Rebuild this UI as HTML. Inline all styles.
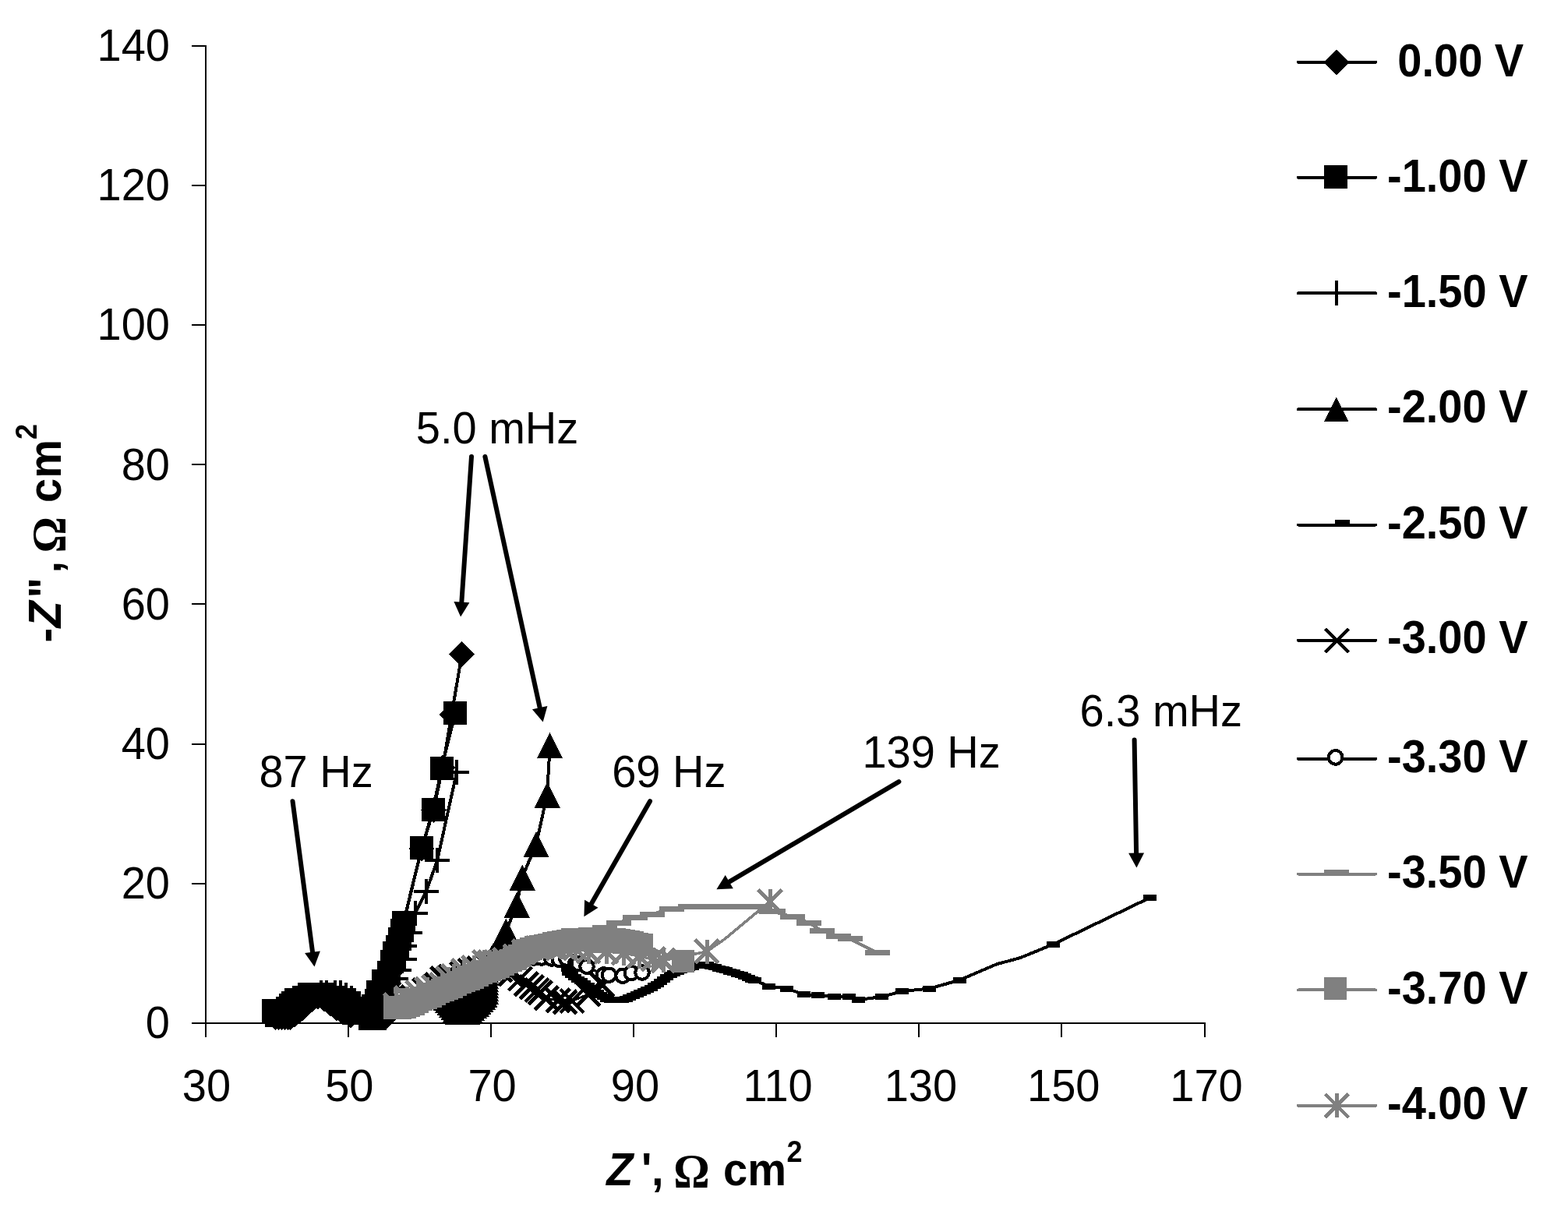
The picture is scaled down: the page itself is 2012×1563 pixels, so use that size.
<!DOCTYPE html>
<html lang="en">
<head>
<meta charset="utf-8">
<title>Nyquist plot</title>
<style>
html,body{margin:0;padding:0;background:#fff;}
body{width:2012px;height:1563px;overflow:hidden;}
svg{display:block;position:absolute;left:0;top:0;}
text{font-family:"Liberation Sans",sans-serif;fill:#000;}
.t{font-size:56px;}
.b{font-size:56px;font-weight:bold;}
.bi{font-style:italic;}
.om{font-family:"Liberation Serif",serif;font-weight:bold;font-size:58px;}
.sup{font-size:36px;}
</style>
</head>
<body>
<svg width="2012" height="1563" viewBox="0 0 2012 1563">
<rect x="0" y="0" width="2012" height="1563" fill="#fff"/>
<g id="axes"><path d="M264 57.5V1331M246 1313H1546.5M246 1313H264M246 1133.8H264M246 954.6H264M246 775.4H264M246 596.1H264M246 416.9H264M246 237.7H264M246 58.5H264M264 1313V1331M447.1 1313V1331M630.1 1313V1331M813.2 1313V1331M996.3 1313V1331M1179.4 1313V1331M1362.4 1313V1331M1545.5 1313V1331" fill="none" stroke="#000" stroke-width="2" shape-rendering="crispEdges"/></g>
<g id="yticks">
<text class="t" text-anchor="end" transform="translate(218 1332.4) scale(1 1.03)">0</text>
<text class="t" text-anchor="end" transform="translate(218 1153.2) scale(1 1.03)">20</text>
<text class="t" text-anchor="end" transform="translate(218 974) scale(1 1.03)">40</text>
<text class="t" text-anchor="end" transform="translate(218 794.8) scale(1 1.03)">60</text>
<text class="t" text-anchor="end" transform="translate(218 615.5) scale(1 1.03)">80</text>
<text class="t" text-anchor="end" transform="translate(218 436.3) scale(1 1.03)">100</text>
<text class="t" text-anchor="end" transform="translate(218 257.1) scale(1 1.03)">120</text>
<text class="t" text-anchor="end" transform="translate(218 77.9) scale(1 1.03)">140</text>
</g>
<g id="xticks">
<text class="t" text-anchor="middle" transform="translate(265 1413) scale(1 1.03)">30</text>
<text class="t" text-anchor="middle" transform="translate(448.3 1413) scale(1 1.03)">50</text>
<text class="t" text-anchor="middle" transform="translate(631.6 1413) scale(1 1.03)">70</text>
<text class="t" text-anchor="middle" transform="translate(814.9 1413) scale(1 1.03)">90</text>
<text class="t" text-anchor="middle" transform="translate(998.1 1413) scale(1 1.03)">110</text>
<text class="t" text-anchor="middle" transform="translate(1181.4 1413) scale(1 1.03)">130</text>
<text class="t" text-anchor="middle" transform="translate(1364.7 1413) scale(1 1.03)">150</text>
<text class="t" text-anchor="middle" transform="translate(1548 1413) scale(1 1.03)">170</text>
</g>
<g id="xtitle">
<text class="b" transform="translate(0 1520.8) scale(1 1.07)"><tspan class="bi" x="778.3">Z</tspan><tspan x="822.9">'</tspan><tspan x="836">, </tspan><tspan class="om" x="864.2" dy="2.1">&#937; </tspan><tspan x="928" dy="-2.1">cm</tspan><tspan class="sup" x="1009.5" dy="-28.2">2</tspan></text>
</g>
<g id="ytitle">
<text class="b" transform="translate(77.5 824.4) rotate(-90) scale(1 1.07)"><tspan x="0">-</tspan><tspan class="bi" x="18.9">Z</tspan><tspan x="56.9">&quot;</tspan><tspan x="88.9">, </tspan><tspan class="om" x="114.9" dy="4.95">&#937; </tspan><tspan x="179.4" dy="-4.95">cm</tspan><tspan class="sup" x="260.4" dy="-28.97">2</tspan></text>
</g>
<g id="plot" shape-rendering="crispEdges"><g id="s1"><polyline points="353,1305.5 357,1305.5 361,1305.5 365,1305.5 369,1305.5 372,1305.5 378,1302 383,1298 388,1294 392,1290 400,1283 408,1279 416,1282 424,1288 432,1294 440,1299 450,1303 472,1305.5 476,1305.5 480,1305.5 484,1305.5 488,1305.5 492,1305.5 494,1305.5 494,1292 496,1278 499,1262 503,1246 506,1232 509,1218 513,1204 517,1188 541,1089 556.3,1039.8 568,984.6 579.5,917 592.7,839.3" fill="none" stroke="#000" stroke-width="4" stroke-linejoin="round" stroke-linecap="round"/><path d="M336.5 1305.5l16.5 -16.5l16.5 16.5l-16.5 16.5zM340.5 1305.5l16.5 -16.5l16.5 16.5l-16.5 16.5zM344.5 1305.5l16.5 -16.5l16.5 16.5l-16.5 16.5zM348.5 1305.5l16.5 -16.5l16.5 16.5l-16.5 16.5zM352.5 1305.5l16.5 -16.5l16.5 16.5l-16.5 16.5zM355.5 1305.5l16.5 -16.5l16.5 16.5l-16.5 16.5zM361.5 1302l16.5 -16.5l16.5 16.5l-16.5 16.5zM366.5 1298l16.5 -16.5l16.5 16.5l-16.5 16.5zM371.5 1294l16.5 -16.5l16.5 16.5l-16.5 16.5zM375.5 1290l16.5 -16.5l16.5 16.5l-16.5 16.5zM383.5 1283l16.5 -16.5l16.5 16.5l-16.5 16.5zM391.5 1279l16.5 -16.5l16.5 16.5l-16.5 16.5zM399.5 1282l16.5 -16.5l16.5 16.5l-16.5 16.5zM407.5 1288l16.5 -16.5l16.5 16.5l-16.5 16.5zM415.5 1294l16.5 -16.5l16.5 16.5l-16.5 16.5zM423.5 1299l16.5 -16.5l16.5 16.5l-16.5 16.5zM433.5 1303l16.5 -16.5l16.5 16.5l-16.5 16.5zM455.5 1305.5l16.5 -16.5l16.5 16.5l-16.5 16.5zM459.5 1305.5l16.5 -16.5l16.5 16.5l-16.5 16.5zM463.5 1305.5l16.5 -16.5l16.5 16.5l-16.5 16.5zM467.5 1305.5l16.5 -16.5l16.5 16.5l-16.5 16.5zM471.5 1305.5l16.5 -16.5l16.5 16.5l-16.5 16.5zM475.5 1305.5l16.5 -16.5l16.5 16.5l-16.5 16.5zM477.5 1305.5l16.5 -16.5l16.5 16.5l-16.5 16.5zM477.5 1292l16.5 -16.5l16.5 16.5l-16.5 16.5zM479.5 1278l16.5 -16.5l16.5 16.5l-16.5 16.5zM482.5 1262l16.5 -16.5l16.5 16.5l-16.5 16.5zM486.5 1246l16.5 -16.5l16.5 16.5l-16.5 16.5zM489.5 1232l16.5 -16.5l16.5 16.5l-16.5 16.5zM492.5 1218l16.5 -16.5l16.5 16.5l-16.5 16.5zM496.5 1204l16.5 -16.5l16.5 16.5l-16.5 16.5zM500.5 1188l16.5 -16.5l16.5 16.5l-16.5 16.5zM524.5 1089l16.5 -16.5l16.5 16.5l-16.5 16.5zM539.8 1039.8l16.5 -16.5l16.5 16.5l-16.5 16.5zM551.5 984.6l16.5 -16.5l16.5 16.5l-16.5 16.5zM563 917l16.5 -16.5l16.5 16.5l-16.5 16.5zM576.2 839.3l16.5 -16.5l16.5 16.5l-16.5 16.5z" fill="#000"/></g><g id="s2"><polyline points="351,1297 355,1303 369,1294 373,1290 376,1287 380,1283 390,1280 397,1276 405,1276 414,1276 427,1279.6 434,1283 441,1285 448,1286.6 454,1300 475,1307 481,1307 481,1295 483,1284 485,1273 492,1259 499,1248 503,1234 506,1223 510,1215 513,1205 516,1194 517.5,1184 541.4,1087.8 555.6,1039.3 566.6,986.1 584,915.3" fill="none" stroke="#000" stroke-width="4" stroke-linejoin="round" stroke-linecap="round"/><path d="M336 1282h30v30h-30zM340 1288h30v30h-30zM354 1279h30v30h-30zM358 1275h30v30h-30zM361 1272h30v30h-30zM365 1268h30v30h-30zM375 1265h30v30h-30zM382 1261h30v30h-30zM390 1261h30v30h-30zM399 1261h30v30h-30zM412 1264.6h30v30h-30zM419 1268h30v30h-30zM426 1270h30v30h-30zM433 1271.6h30v30h-30zM439 1285h30v30h-30zM460 1292h30v30h-30zM466 1292h30v30h-30zM466 1280h30v30h-30zM468 1269h30v30h-30zM470 1258h30v30h-30zM477 1244h30v30h-30zM484 1233h30v30h-30zM488 1219h30v30h-30zM491 1208h30v30h-30zM495 1200h30v30h-30zM498 1190h30v30h-30zM501 1179h30v30h-30zM502.5 1169h30v30h-30zM526.4 1072.8h30v30h-30zM540.6 1024.3h30v30h-30zM551.6 971.1h30v30h-30zM569 900.3h30v30h-30z" fill="#000"/></g><g id="s3"><polyline points="366,1296 380,1288 395,1280 412.4,1274 419.4,1274 430.3,1274 436.8,1274 443.8,1277 450.7,1281 455.2,1284 466,1292 478,1298 490,1295 499,1280 503,1268 508,1256 512,1244.8 519,1230.9 519,1214.2 526,1196.6 533,1171.5 547,1143.7 561,1104.4 586,991" fill="none" stroke="#000" stroke-width="4" stroke-linejoin="round" stroke-linecap="round"/><path d="M350 1296h32M366 1280v32M364 1288h32M380 1272v32M379 1280h32M395 1264v32M396.4 1274h32M412.4 1258v32M403.4 1274h32M419.4 1258v32M414.3 1274h32M430.3 1258v32M420.8 1274h32M436.8 1258v32M427.8 1277h32M443.8 1261v32M434.7 1281h32M450.7 1265v32M439.2 1284h32M455.2 1268v32M450 1292h32M466 1276v32M462 1298h32M478 1282v32M474 1295h32M490 1279v32M483 1280h32M499 1264v32M487 1268h32M503 1252v32M492 1256h32M508 1240v32M496 1244.8h32M512 1228.8v32M503 1230.9h32M519 1214.9v32M503 1214.2h32M519 1198.2v32M510 1196.6h32M526 1180.6v32M517 1171.5h32M533 1155.5v32M531 1143.7h32M547 1127.7v32M545 1104.4h32M561 1088.4v32M570 991h32M586 975v32" fill="none" stroke="#000" stroke-width="4" stroke-linecap="butt"/></g><g id="s4"><polyline points="572,1280 574.6,1283.1 577.1,1286.1 579.7,1289.2 582.2,1292.3 584.8,1295.4 587.6,1298 591.6,1298 595.6,1298 599.6,1298 603.1,1296.8 605.8,1293.9 608.5,1290.9 611.2,1288 613.9,1285 616.6,1282.1 619.3,1279.1 622,1276.2 623.5,1272.8 623.5,1268.8 623.5,1264.8 623.5,1260.8 623.5,1256.8 623.5,1252.8 623.5,1248.8 623.5,1244.8 624.8,1241.1 626.7,1237.6 628.7,1234.1 630.6,1230.6 632.6,1227.1 634.7,1223.8 636.9,1220.4 639.1,1217.1 641.3,1213.7 643,1211 585,1285 589.7,1283.3 594.4,1281.5 599.1,1279.8 603.8,1278.1 608.4,1276.3 612,1275 649.4,1195 663,1161 670,1126 688,1083.4 702,1020 705.7,956.4" fill="none" stroke="#000" stroke-width="4" stroke-linejoin="round" stroke-linecap="round"/><path d="M572 1263.5l16.5 33h-33zM574.6 1266.6l16.5 33h-33zM577.1 1269.6l16.5 33h-33zM579.7 1272.7l16.5 33h-33zM582.2 1275.8l16.5 33h-33zM584.8 1278.9l16.5 33h-33zM587.6 1281.5l16.5 33h-33zM591.6 1281.5l16.5 33h-33zM595.6 1281.5l16.5 33h-33zM599.6 1281.5l16.5 33h-33zM603.1 1280.3l16.5 33h-33zM605.8 1277.4l16.5 33h-33zM608.5 1274.4l16.5 33h-33zM611.2 1271.5l16.5 33h-33zM613.9 1268.5l16.5 33h-33zM616.6 1265.6l16.5 33h-33zM619.3 1262.6l16.5 33h-33zM622 1259.7l16.5 33h-33zM623.5 1256.3l16.5 33h-33zM623.5 1252.3l16.5 33h-33zM623.5 1248.3l16.5 33h-33zM623.5 1244.3l16.5 33h-33zM623.5 1240.3l16.5 33h-33zM623.5 1236.3l16.5 33h-33zM623.5 1232.3l16.5 33h-33zM623.5 1228.3l16.5 33h-33zM624.8 1224.6l16.5 33h-33zM626.7 1221.1l16.5 33h-33zM628.7 1217.6l16.5 33h-33zM630.6 1214.1l16.5 33h-33zM632.6 1210.6l16.5 33h-33zM634.7 1207.3l16.5 33h-33zM636.9 1203.9l16.5 33h-33zM639.1 1200.6l16.5 33h-33zM641.3 1197.2l16.5 33h-33zM643 1194.5l16.5 33h-33zM585 1268.5l16.5 33h-33zM589.7 1266.8l16.5 33h-33zM594.4 1265l16.5 33h-33zM599.1 1263.3l16.5 33h-33zM603.8 1261.6l16.5 33h-33zM608.4 1259.8l16.5 33h-33zM612 1258.5l16.5 33h-33zM649.4 1178.5l16.5 33h-33zM663 1144.5l16.5 33h-33zM670 1109.5l16.5 33h-33zM688 1066.9l16.5 33h-33zM702 1003.5l16.5 33h-33zM705.7 939.9l16.5 33h-33z" fill="#000"/></g><g id="s5"><polyline points="727,1238 728.4,1242.8 729.8,1247.6 733.4,1250.8 737.5,1253.6 741.6,1256.5 745.7,1259.3 749.9,1262.2 754,1265.1 758.1,1267.9 762.2,1270.8 766.3,1273.6 770.4,1276.5 774.5,1279.3 778.6,1282.2 783.4,1282.7 788.4,1282.7 793.4,1282.6 798.4,1282.5 803.2,1281.5 807.9,1279.9 812.7,1278.2 817.3,1276.4 821.8,1274.3 826.4,1272.2 830.9,1270 835.2,1267.5 839.6,1265.1 843.9,1262.6 847.9,1259.6 851.8,1256.5 855.8,1253.5 860.2,1251.1 864.6,1248.7 869.2,1246.8 873.9,1245.2 878.7,1243.5 883.4,1242 888.2,1240.5 893,1239 898,1238.7 902.9,1238.3 907.9,1238 912.7,1239.5 917.5,1241 922.2,1242.5 927,1244 931.8,1245.4 936.6,1246.8 941.4,1248.1 946.2,1249.5 951,1251 955.6,1252.9 960.2,1254.8 964.9,1256.7 968,1258 986.7,1265.5 1009,1268.5 1031.5,1276 1049,1277.4 1070,1279 1089.6,1279 1101.5,1283 1131.9,1279 1157.8,1272 1192.6,1268.6 1231.3,1257.7 1279,1237.2 1308.9,1229.2 1351.6,1211.7 1475.3,1152.1" fill="none" stroke="#000" stroke-width="4" stroke-linejoin="round" stroke-linecap="round"/><path d="M718.5 1234h17v8h-17zM719.9 1238.8h17v8h-17zM721.3 1243.6h17v8h-17zM724.9 1246.8h17v8h-17zM729 1249.6h17v8h-17zM733.1 1252.5h17v8h-17zM737.2 1255.3h17v8h-17zM741.4 1258.2h17v8h-17zM745.5 1261.1h17v8h-17zM749.6 1263.9h17v8h-17zM753.7 1266.8h17v8h-17zM757.8 1269.6h17v8h-17zM761.9 1272.5h17v8h-17zM766 1275.3h17v8h-17zM770.1 1278.2h17v8h-17zM774.9 1278.7h17v8h-17zM779.9 1278.7h17v8h-17zM784.9 1278.6h17v8h-17zM789.9 1278.5h17v8h-17zM794.7 1277.5h17v8h-17zM799.4 1275.9h17v8h-17zM804.2 1274.2h17v8h-17zM808.8 1272.4h17v8h-17zM813.3 1270.3h17v8h-17zM817.9 1268.2h17v8h-17zM822.4 1266h17v8h-17zM826.7 1263.5h17v8h-17zM831.1 1261.1h17v8h-17zM835.4 1258.6h17v8h-17zM839.4 1255.6h17v8h-17zM843.3 1252.5h17v8h-17zM847.3 1249.5h17v8h-17zM851.7 1247.1h17v8h-17zM856.1 1244.7h17v8h-17zM860.7 1242.8h17v8h-17zM865.4 1241.2h17v8h-17zM870.2 1239.5h17v8h-17zM874.9 1238h17v8h-17zM879.7 1236.5h17v8h-17zM884.5 1235h17v8h-17zM889.5 1234.7h17v8h-17zM894.4 1234.3h17v8h-17zM899.4 1234h17v8h-17zM904.2 1235.5h17v8h-17zM909 1237h17v8h-17zM913.7 1238.5h17v8h-17zM918.5 1240h17v8h-17zM923.3 1241.4h17v8h-17zM928.1 1242.8h17v8h-17zM932.9 1244.1h17v8h-17zM937.7 1245.5h17v8h-17zM942.5 1247h17v8h-17zM947.1 1248.9h17v8h-17zM951.7 1250.8h17v8h-17zM956.4 1252.7h17v8h-17zM959.5 1254h17v8h-17zM978.2 1261.5h17v8h-17zM1000.5 1264.5h17v8h-17zM1023 1272h17v8h-17zM1040.5 1273.4h17v8h-17zM1061.5 1275h17v8h-17zM1081.1 1275h17v8h-17zM1093 1279h17v8h-17zM1123.4 1275h17v8h-17zM1149.3 1268h17v8h-17zM1184.1 1264.6h17v8h-17zM1222.8 1253.7h17v8h-17zM1343.1 1207.7h17v8h-17zM1466.8 1148.1h17v8h-17z" fill="#000"/></g><g id="s6"><polyline points="530,1280 545,1271 560.6,1263.6 567.6,1255.6 578.5,1252.7 592.4,1249.7 603.3,1245.7 615,1243 628,1242 642,1245 655,1250 667.6,1256 675,1263 682,1267 689,1270.5 693,1274 701,1281 716,1284 725,1286 734,1284.4 755,1276 773,1264" fill="none" stroke="#000" stroke-width="3" stroke-linejoin="round" stroke-linecap="round"/><path d="M515 1265l30 30M515 1295l30 -30M530 1256l30 30M530 1286l30 -30M545.6 1248.6l30 30M545.6 1278.6l30 -30M552.6 1240.6l30 30M552.6 1270.6l30 -30M563.5 1237.7l30 30M563.5 1267.7l30 -30M577.4 1234.7l30 30M577.4 1264.7l30 -30M588.3 1230.7l30 30M588.3 1260.7l30 -30M600 1228l30 30M600 1258l30 -30M613 1227l30 30M613 1257l30 -30M627 1230l30 30M627 1260l30 -30M640 1235l30 30M640 1265l30 -30M652.6 1241l30 30M652.6 1271l30 -30M660 1248l30 30M660 1278l30 -30M667 1252l30 30M667 1282l30 -30M674 1255.5l30 30M674 1285.5l30 -30M678 1259l30 30M678 1289l30 -30M686 1266l30 30M686 1296l30 -30M701 1269l30 30M701 1299l30 -30M710 1271l30 30M710 1301l30 -30M719 1269.4l30 30M719 1299.4l30 -30M740 1261l30 30M740 1291l30 -30M758 1249l30 30M758 1279l30 -30" fill="none" stroke="#000" stroke-width="4.5" stroke-linecap="butt"/></g><g id="s7"><polyline points="560,1268 570.9,1263.1 581.9,1258.2 592.8,1253.2 603.9,1248.7 615.3,1245 626.8,1241.3 638.2,1237.6 649.9,1235 661.6,1232.7 673.4,1230.3 685.3,1229 695,1229 707.7,1230 717.3,1231.3 726.8,1230 738.4,1237 742.3,1236.7 753,1240.2 774.5,1251 781.4,1251.2 799,1252.2 810.3,1248.6 824,1248" fill="none" stroke="#000" stroke-width="3" stroke-linejoin="round" stroke-linecap="round"/><circle cx="560" cy="1268" r="8.7" fill="#fff" stroke="#000" stroke-width="4"/><circle cx="570.9" cy="1263.1" r="8.7" fill="#fff" stroke="#000" stroke-width="4"/><circle cx="581.9" cy="1258.2" r="8.7" fill="#fff" stroke="#000" stroke-width="4"/><circle cx="592.8" cy="1253.2" r="8.7" fill="#fff" stroke="#000" stroke-width="4"/><circle cx="603.9" cy="1248.7" r="8.7" fill="#fff" stroke="#000" stroke-width="4"/><circle cx="615.3" cy="1245" r="8.7" fill="#fff" stroke="#000" stroke-width="4"/><circle cx="626.8" cy="1241.3" r="8.7" fill="#fff" stroke="#000" stroke-width="4"/><circle cx="638.2" cy="1237.6" r="8.7" fill="#fff" stroke="#000" stroke-width="4"/><circle cx="649.9" cy="1235" r="8.7" fill="#fff" stroke="#000" stroke-width="4"/><circle cx="661.6" cy="1232.7" r="8.7" fill="#fff" stroke="#000" stroke-width="4"/><circle cx="673.4" cy="1230.3" r="8.7" fill="#fff" stroke="#000" stroke-width="4"/><circle cx="685.3" cy="1229" r="8.7" fill="#fff" stroke="#000" stroke-width="4"/><circle cx="695" cy="1229" r="8.7" fill="#fff" stroke="#000" stroke-width="4"/><circle cx="707.7" cy="1230" r="8.7" fill="#fff" stroke="#000" stroke-width="4"/><circle cx="717.3" cy="1231.3" r="8.7" fill="#fff" stroke="#000" stroke-width="4"/><circle cx="726.8" cy="1230" r="8.7" fill="#fff" stroke="#000" stroke-width="4"/><circle cx="738.4" cy="1237" r="8.7" fill="#fff" stroke="#000" stroke-width="4"/><circle cx="742.3" cy="1236.7" r="8.7" fill="#fff" stroke="#000" stroke-width="4"/><circle cx="753" cy="1240.2" r="8.7" fill="#fff" stroke="#000" stroke-width="4"/><circle cx="774.5" cy="1251" r="8.7" fill="#fff" stroke="#000" stroke-width="4"/><circle cx="781.4" cy="1251.2" r="8.7" fill="#fff" stroke="#000" stroke-width="4"/><circle cx="799" cy="1252.2" r="8.7" fill="#fff" stroke="#000" stroke-width="4"/><circle cx="810.3" cy="1248.6" r="8.7" fill="#fff" stroke="#000" stroke-width="4"/><circle cx="824" cy="1248" r="8.7" fill="#fff" stroke="#000" stroke-width="4"/></g><g id="s8"><polyline points="508,1304.5 521,1271.5 541,1282 562,1272 583,1264 605,1254 626,1245 649,1235 673,1222 700,1212 720,1204 739,1198 758,1193.5 776,1190.5 794,1184 815,1177 836.5,1173 861.6,1166 886,1163 904,1163 922,1163 940,1163 958,1163 975,1163 991.6,1169.8 1017,1176.5 1037.8,1184 1055,1194.7 1075.8,1201.9 1090.8,1204.9 1125.8,1222.8" fill="none" stroke="#808080" stroke-width="4" stroke-linejoin="round" stroke-linecap="round"/><path d="M492 1301h32v7h-32zM505 1268h32v7h-32zM525 1278.5h32v7h-32zM546 1268.5h32v7h-32zM567 1260.5h32v7h-32zM589 1250.5h32v7h-32zM610 1241.5h32v7h-32zM633 1231.5h32v7h-32zM657 1218.5h32v7h-32zM684 1208.5h32v7h-32zM704 1200.5h32v7h-32zM723 1194.5h32v7h-32zM742 1190h32v7h-32zM760 1187h32v7h-32zM778 1180.5h32v7h-32zM799 1173.5h32v7h-32zM820.5 1169.5h32v7h-32zM845.6 1162.5h32v7h-32zM870 1159.5h32v7h-32zM888 1159.5h32v7h-32zM906 1159.5h32v7h-32zM924 1159.5h32v7h-32zM942 1159.5h32v7h-32zM959 1159.5h32v7h-32zM975.6 1166.3h32v7h-32zM1001 1173h32v7h-32zM1021.8 1180.5h32v7h-32zM1039 1191.2h32v7h-32zM1059.8 1198.4h32v7h-32zM1074.8 1201.4h32v7h-32zM1109.8 1219.3h32v7h-32z" fill="#808080"/></g><g id="s9"><polyline points="507,1293 513,1293 518.9,1292.6 524.5,1290.5 530,1288.1 535.4,1285.5 540.8,1282.8 546.4,1280.6 551.9,1278.2 557.1,1275.3 562.4,1272.5 567.9,1270.1 573.5,1267.9 579.2,1266 584.7,1263.7 590,1260.8 595.3,1258.2 601,1256.2 606.5,1253.9 611.9,1251.2 617.4,1248.8 622.9,1246.5 628.5,1244.4 634.3,1242.6 639.7,1240.2 645,1237.4 650.3,1234.6 655.8,1232.2 661.4,1229.9 666.4,1226.7 671.1,1222.9 676.2,1219.9 681.6,1217.2 687.3,1215.7 693.2,1214.5 699.1,1213.4 705,1212.2 710.9,1211 716.7,1209.8 722.6,1208.5 728.5,1207.1 734.3,1206 740.3,1206 746.3,1205.9 752.3,1205.9 758.3,1205.8 764.3,1205.8 770.3,1205.7 776.3,1205.7 782.3,1205.7 788.3,1205.6 794.3,1206.1 800.1,1207.5 806,1208.8 811.8,1210 817.7,1211.2 823.6,1212.5 876.8,1233.3" fill="none" stroke="#808080" stroke-width="4" stroke-linejoin="round" stroke-linecap="round"/><path d="M492.4 1278.4h29.2v29.2h-29.2zM498.4 1278.4h29.2v29.2h-29.2zM504.3 1278h29.2v29.2h-29.2zM509.9 1275.9h29.2v29.2h-29.2zM515.4 1273.5h29.2v29.2h-29.2zM520.8 1270.9h29.2v29.2h-29.2zM526.2 1268.2h29.2v29.2h-29.2zM531.8 1266h29.2v29.2h-29.2zM537.3 1263.6h29.2v29.2h-29.2zM542.5 1260.7h29.2v29.2h-29.2zM547.8 1257.9h29.2v29.2h-29.2zM553.3 1255.5h29.2v29.2h-29.2zM558.9 1253.3h29.2v29.2h-29.2zM564.6 1251.4h29.2v29.2h-29.2zM570.1 1249.1h29.2v29.2h-29.2zM575.4 1246.2h29.2v29.2h-29.2zM580.7 1243.6h29.2v29.2h-29.2zM586.4 1241.6h29.2v29.2h-29.2zM591.9 1239.3h29.2v29.2h-29.2zM597.3 1236.6h29.2v29.2h-29.2zM602.8 1234.2h29.2v29.2h-29.2zM608.3 1231.9h29.2v29.2h-29.2zM613.9 1229.8h29.2v29.2h-29.2zM619.7 1228h29.2v29.2h-29.2zM625.1 1225.6h29.2v29.2h-29.2zM630.4 1222.8h29.2v29.2h-29.2zM635.7 1220h29.2v29.2h-29.2zM641.2 1217.6h29.2v29.2h-29.2zM646.8 1215.3h29.2v29.2h-29.2zM651.8 1212.1h29.2v29.2h-29.2zM656.5 1208.3h29.2v29.2h-29.2zM661.6 1205.3h29.2v29.2h-29.2zM667 1202.6h29.2v29.2h-29.2zM672.7 1201.1h29.2v29.2h-29.2zM678.6 1199.9h29.2v29.2h-29.2zM684.5 1198.8h29.2v29.2h-29.2zM690.4 1197.6h29.2v29.2h-29.2zM696.3 1196.4h29.2v29.2h-29.2zM702.1 1195.2h29.2v29.2h-29.2zM708 1193.9h29.2v29.2h-29.2zM713.9 1192.5h29.2v29.2h-29.2zM719.7 1191.4h29.2v29.2h-29.2zM725.7 1191.4h29.2v29.2h-29.2zM731.7 1191.3h29.2v29.2h-29.2zM737.7 1191.3h29.2v29.2h-29.2zM743.7 1191.2h29.2v29.2h-29.2zM749.7 1191.2h29.2v29.2h-29.2zM755.7 1191.1h29.2v29.2h-29.2zM761.7 1191.1h29.2v29.2h-29.2zM767.7 1191.1h29.2v29.2h-29.2zM773.7 1191h29.2v29.2h-29.2zM779.7 1191.5h29.2v29.2h-29.2zM785.5 1192.9h29.2v29.2h-29.2zM791.4 1194.2h29.2v29.2h-29.2zM797.2 1195.4h29.2v29.2h-29.2zM803.1 1196.6h29.2v29.2h-29.2zM809 1197.9h29.2v29.2h-29.2zM862.2 1218.7h29.2v29.2h-29.2z" fill="#808080"/></g><g id="s10"><polyline points="508,1290 522,1281 536,1274 548,1269.5 557,1267 567,1264 575,1256 582,1252.7 595,1245.7 608,1241.7 621.7,1234.8 628.7,1234.8 636.7,1234.8 647.5,1231.8 661.5,1227.3 672.5,1221 690,1217 706,1215 722,1215 738,1217 755,1221 778,1221 800,1223 820,1227 838,1231 851,1232.5 907,1221 930,1205 960,1180 988,1156.7" fill="none" stroke="#808080" stroke-width="3.5" stroke-linejoin="round" stroke-linecap="round"/><path d="M493 1275l30 30M493 1305l30 -30M508 1274.5v31M507 1266l30 30M507 1296l30 -30M522 1265.5v31M521 1259l30 30M521 1289l30 -30M536 1258.5v31M533 1254.5l30 30M533 1284.5l30 -30M548 1254v31M542 1252l30 30M542 1282l30 -30M557 1251.5v31M552 1249l30 30M552 1279l30 -30M567 1248.5v31M560 1241l30 30M560 1271l30 -30M575 1240.5v31M567 1237.7l30 30M567 1267.7l30 -30M582 1237.2v31M580 1230.7l30 30M580 1260.7l30 -30M595 1230.2v31M593 1226.7l30 30M593 1256.7l30 -30M608 1226.2v31M606.7 1219.8l30 30M606.7 1249.8l30 -30M621.7 1219.3v31M613.7 1219.8l30 30M613.7 1249.8l30 -30M628.7 1219.3v31M621.7 1219.8l30 30M621.7 1249.8l30 -30M636.7 1219.3v31M632.5 1216.8l30 30M632.5 1246.8l30 -30M647.5 1216.3v31M646.5 1212.3l30 30M646.5 1242.3l30 -30M661.5 1211.8v31M657.5 1206l30 30M657.5 1236l30 -30M672.5 1205.5v31M675 1202l30 30M675 1232l30 -30M690 1201.5v31M691 1200l30 30M691 1230l30 -30M706 1199.5v31M707 1200l30 30M707 1230l30 -30M722 1199.5v31M723 1202l30 30M723 1232l30 -30M738 1201.5v31M740 1206l30 30M740 1236l30 -30M755 1205.5v31M763 1206l30 30M763 1236l30 -30M778 1205.5v31M785 1208l30 30M785 1238l30 -30M800 1207.5v31M805 1212l30 30M805 1242l30 -30M820 1211.5v31M823 1216l30 30M823 1246l30 -30M838 1215.5v31M836 1217.5l30 30M836 1247.5l30 -30M851 1217v31M892 1206l30 30M892 1236l30 -30M907 1205.5v31M973 1141.7l30 30M973 1171.7l30 -30M988 1141.2v31" fill="none" stroke="#808080" stroke-width="5" stroke-linecap="butt"/></g></g>
<g id="notes">
<line x1="605" y1="586" x2="592.2" y2="774.6" stroke="#000" stroke-width="6" stroke-linecap="round"/><path d="M591.1 791.6L582.4 772L602.4 773.3z" fill="#000"/>
<line x1="622.4" y1="586" x2="693.1" y2="910" stroke="#000" stroke-width="6" stroke-linecap="round"/><path d="M696.7 926.6L682.9 910.2L702.4 905.9z" fill="#000"/>
<line x1="375.5" y1="1028.2" x2="401.3" y2="1223.6" stroke="#000" stroke-width="6" stroke-linecap="round"/><path d="M403.5 1240.5L391.1 1223L410.9 1220.4z" fill="#000"/>
<line x1="834" y1="1028.2" x2="757.8" y2="1161.5" stroke="#000" stroke-width="6" stroke-linecap="round"/><path d="M749.4 1176.3L750.1 1154.8L767.5 1164.8z" fill="#000"/>
<line x1="1153.4" y1="1003.1" x2="934" y2="1132.6" stroke="#000" stroke-width="6" stroke-linecap="round"/><path d="M919.4 1141.2L930.7 1122.9L940.8 1140.2z" fill="#000"/>
<line x1="1455.6" y1="949.4" x2="1458.1" y2="1096.6" stroke="#000" stroke-width="6" stroke-linecap="round"/><path d="M1458.4 1113.6L1448.1 1094.8L1468.1 1094.4z" fill="#000"/>
</g>
<g id="labels">
<text class="t" transform="translate(533.8 568.6) scale(1 1.03)">5.0 mHz</text>
<text class="t" transform="translate(332.4 1010.2) scale(1 1.03)">87 Hz</text>
<text class="t" transform="translate(785.2 1010.2) scale(1 1.03)">69 Hz</text>
<text class="t" transform="translate(1106.4 985.2) scale(1 1.03)">139 Hz</text>
<text class="t" transform="translate(1385.6 932.3) scale(1 1.03)">6.3 mHz</text>
</g>
<g id="legend">
<g shape-rendering="crispEdges">
<line x1="1666" y1="79.9" x2="1765" y2="79.9" stroke="#000" stroke-width="4" stroke-linecap="round"/>
<path d="M1698.8 79.9l16.5 -16.5l16.5 16.5l-16.5 16.5z" fill="#000"/>
</g>
<text class="b" transform="translate(1793.3 97.7) scale(1 1.07)">0.00 V</text>
<g shape-rendering="crispEdges">
<line x1="1666" y1="227.9" x2="1765" y2="227.9" stroke="#000" stroke-width="4" stroke-linecap="round"/>
<path d="M1698.8 211.5h30v30h-30z" fill="#000"/>
</g>
<text class="b" transform="translate(1780 245.5) scale(1 1.07)">-1.00 V</text>
<g shape-rendering="crispEdges">
<line x1="1666" y1="376.3" x2="1765" y2="376.3" stroke="#000" stroke-width="4" stroke-linecap="round"/>
<path d="M1699.3 376.3h32M1715.3 360.3v32" fill="none" stroke="#000" stroke-width="4" stroke-linecap="butt"/>
</g>
<text class="b" transform="translate(1780 393.7) scale(1 1.07)">-1.50 V</text>
<g shape-rendering="crispEdges">
<line x1="1666" y1="525.2" x2="1765" y2="525.2" stroke="#000" stroke-width="4" stroke-linecap="round"/>
<path d="M1714.8 509.2l16 32h-32z" fill="#000"/>
</g>
<text class="b" transform="translate(1780 541.6) scale(1 1.07)">-2.00 V</text>
<g shape-rendering="crispEdges">
<line x1="1666" y1="673.6" x2="1765" y2="673.6" stroke="#000" stroke-width="4" stroke-linecap="round"/>
<path d="M1713 667.2h19v8h-19z" fill="#000"/>
</g>
<text class="b" transform="translate(1780 690.5) scale(1 1.07)">-2.50 V</text>
<g shape-rendering="crispEdges">
<line x1="1666" y1="821.9" x2="1765" y2="821.9" stroke="#000" stroke-width="4" stroke-linecap="round"/>
<path d="M1700.3 806.9l30 30M1700.3 836.9l30 -30" fill="none" stroke="#000" stroke-width="4.5" stroke-linecap="butt"/>
</g>
<text class="b" transform="translate(1780 838.3) scale(1 1.07)">-3.00 V</text>
<g shape-rendering="crispEdges">
<line x1="1666" y1="973.9" x2="1765" y2="973.9" stroke="#000" stroke-width="4" stroke-linecap="round"/>
<circle cx="1713.7" cy="971.9" r="8.8" fill="#fff" stroke="#000" stroke-width="4"/>
</g>
<text class="b" transform="translate(1780 991.3) scale(1 1.07)">-3.30 V</text>
<g shape-rendering="crispEdges">
<line x1="1666" y1="1121.6" x2="1765" y2="1121.6" stroke="#808080" stroke-width="4" stroke-linecap="round"/>
<path d="M1699.3 1115.7h32v7h-32z" fill="#808080"/>
</g>
<text class="b" transform="translate(1780 1139) scale(1 1.07)">-3.50 V</text>
<g shape-rendering="crispEdges">
<line x1="1666" y1="1270.4" x2="1765" y2="1270.4" stroke="#808080" stroke-width="4" stroke-linecap="round"/>
<path d="M1699.3 1254.2h28.6v28.6h-28.6z" fill="#808080"/>
</g>
<text class="b" transform="translate(1780 1288) scale(1 1.07)">-3.70 V</text>
<g shape-rendering="crispEdges">
<line x1="1666" y1="1418.8" x2="1765" y2="1418.8" stroke="#808080" stroke-width="4" stroke-linecap="round"/>
<path d="M1700.3 1403.8l30 30M1700.3 1433.8l30 -30M1715.3 1403.3v31" fill="none" stroke="#808080" stroke-width="4.5" stroke-linecap="butt"/>
</g>
<text class="b" transform="translate(1780 1435.7) scale(1 1.07)">-4.00 V</text>
</g>
</svg>
</body>
</html>
